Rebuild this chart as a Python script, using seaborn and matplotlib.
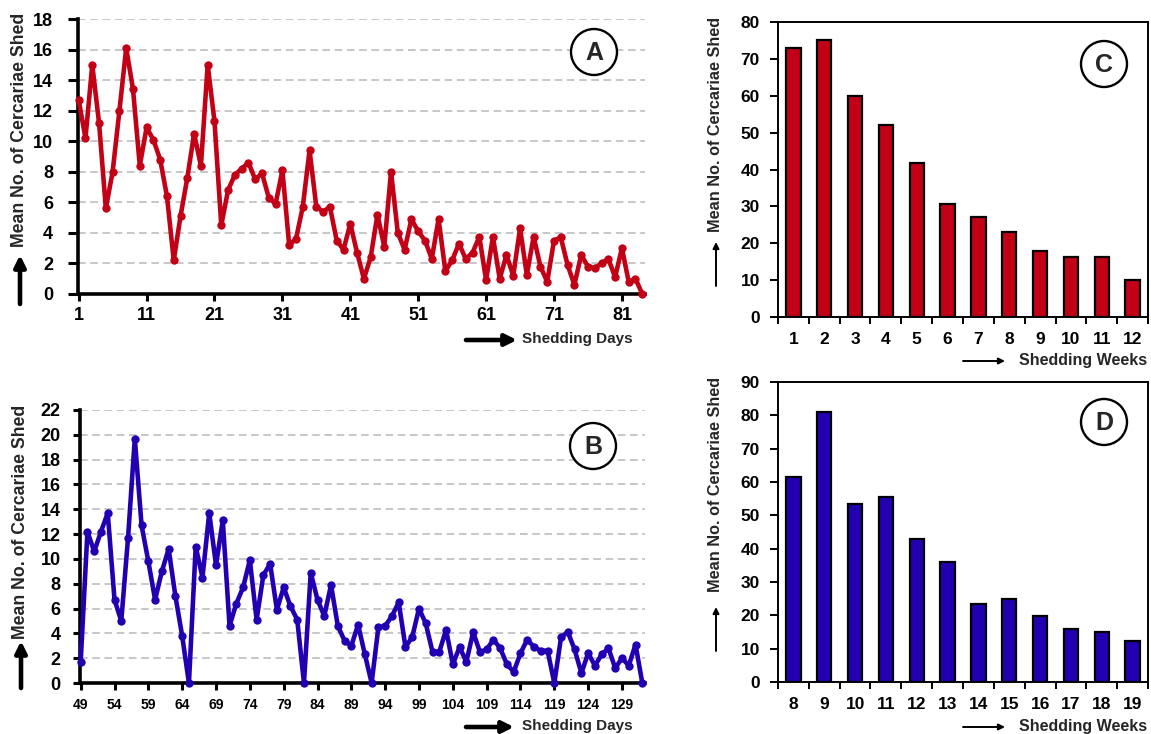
import numpy as np
import pandas as pd
import matplotlib
matplotlib.use("Agg")
import matplotlib.pyplot as plt
import seaborn as sns
from matplotlib.patches import Circle, FancyArrowPatch

# ---- data ----
days_a = list(range(1, 85))
mean_a = [12.7, 10.2, 15.0, 11.2, 5.6, 8.0, 12.0, 16.1, 13.4, 8.4,
          10.9, 10.1, 8.8, 6.4, 2.2, 5.1, 7.6, 10.5, 8.4, 15.0,
          11.3, 4.5, 6.8, 7.8, 8.2, 8.6, 7.5, 7.9, 6.3, 5.9,
          8.1, 3.2, 3.6, 5.7, 9.4, 5.7, 5.4, 5.7, 3.5, 2.9,
          4.6, 2.7, 1.0, 2.4, 5.2, 3.1, 8.0, 4.0, 2.9, 4.9,
          4.1, 3.5, 2.3, 4.9, 1.5, 2.2, 3.3, 2.3, 2.7, 3.75,
          0.9, 3.75, 1.0, 2.55, 1.2, 4.3, 1.25, 3.75, 1.8, 0.8,
          3.5, 3.7, 1.9, 0.6, 2.55, 1.8, 1.7, 2.0, 2.3, 1.1,
          3.0, 0.8, 1.0, 0.0]

days_b = list(range(49, 133))
mean_b = [1.7, 12.2, 10.6, 12.2, 13.7, 6.7, 5.0, 11.7, 19.7, 12.7,
          9.8, 6.7, 9.0, 10.8, 7.0, 3.8, 0.0, 11.0, 8.5, 13.7,
          9.5, 13.1, 4.6, 6.4, 7.7, 9.9, 5.1, 8.7, 9.6, 5.9,
          7.7, 6.2, 5.1, 0.0, 8.9, 6.7, 5.4, 7.9, 4.6, 3.4,
          3.0, 4.7, 2.3, 0.0, 4.5, 4.6, 5.4, 6.5, 2.9, 3.7,
          6.0, 4.8, 2.5, 2.5, 4.3, 1.5, 2.9, 1.7, 4.1, 2.5,
          2.7, 3.5, 2.8, 1.5, 0.9, 2.4, 3.5, 2.9, 2.6, 2.6,
          0.0, 3.7, 4.1, 2.7, 0.8, 2.4, 1.4, 2.3, 2.8, 1.2,
          2.0, 1.4, 3.1, 0.0]

weeks_c = ["1", "2", "3", "4", "5", "6", "7", "8", "9", "10", "11", "12"]
mean_c = [73, 75, 60, 52, 41.8, 30.7, 27.0, 23.1, 18.0, 16.2, 16.2, 10]

weeks_d = ["8", "9", "10", "11", "12", "13", "14", "15", "16", "17", "18", "19"]
mean_d = [61.6, 81.1, 53.4, 55.4, 42.9, 36.0, 23.4, 24.8, 19.9, 15.9, 15.0, 12.3]

RED = "#C20016"
BLUE = "#2200B2"
W, H = 1151, 734

sns.set_theme(style="ticks")
plt.rcParams["font.family"] = ["Liberation Sans", "DejaVu Sans"]
plt.rcParams["font.weight"] = "bold"

fig = plt.figure(figsize=(W / 100, H / 100), dpi=100)
fig.patch.set_facecolor("white")


def rect(l, t, r, b):
    return [l / W, 1 - b / H, (r - l) / W, (b - t) / H]


def P(x, y):
    # pixel position -> inches (for fig.dpi_scale_trans)
    return (x / 100, (H - y) / 100)


tr = fig.dpi_scale_trans


def arrow(x0, y0, x1, y1, lw, head):
    fig.add_artist(FancyArrowPatch(P(x0, y0), P(x1, y1), transform=tr,
                                   arrowstyle="-|>", mutation_scale=head,
                                   lw=lw, color="black", shrinkA=0, shrinkB=0))


def circled(x, y, letter):
    fig.add_artist(Circle(P(x, y), 0.23, transform=tr, facecolor="white",
                          edgecolor="black", lw=1.7, zorder=5))
    fig.text(*P(x, y + 1), letter, transform=tr, ha="center", va="center",
             fontsize=18, fontweight="bold", zorder=6)


def line_panel(ax, days, vals, color, xlim, ylim, xticks, xfs, ypad, xpad, ylen):
    df = pd.DataFrame({"day": days, "mean": vals})
    sns.lineplot(data=df, x="day", y="mean", color=color, lw=3.3, marker="o",
                 markersize=6, markeredgewidth=0, clip_on=False, ax=ax, zorder=3)
    ax.set_xlim(*xlim)
    ax.set_ylim(*ylim)
    ax.set_yticks(np.arange(0, ylim[1] + 1, 2))
    ax.set_xticks(xticks)
    ax.yaxis.grid(True, linestyle=(0, (5, 3)), color="#b8b8b8", lw=1.1)
    ax.set_axisbelow(True)
    for s in ["top", "right"]:
        ax.spines[s].set_visible(False)
    for s in ["left", "bottom"]:
        ax.spines[s].set_linewidth(2.6)
        ax.spines[s].set_color("black")
    ax.tick_params(axis="y", direction="out", length=ylen, width=2.2, pad=ypad,
                   labelsize=13, colors="black")
    ax.tick_params(axis="x", direction="out", length=5, width=2.2, pad=xpad,
                   labelsize=xfs, colors="black")
    for t in ax.get_xticklabels() + ax.get_yticklabels():
        t.set_fontweight("bold")
    ax.set_xlabel("")
    ax.set_ylabel("")


def bar_panel(ax, weeks, vals, color, ytop):
    df = pd.DataFrame({"week": weeks, "mean": vals})
    sns.barplot(data=df, x="week", y="mean", order=weeks, color=color,
                saturation=1, edgecolor="black", linewidth=1.6, width=0.47,
                errorbar=None, ax=ax)
    ax.set_xlim(-0.5, len(weeks) - 0.5)
    ax.set_ylim(0, ytop)
    ax.set_yticks(np.arange(0, ytop + 1, 10))
    ax.set_xticks(np.arange(-0.5, len(weeks), 1), minor=True)
    for s in ax.spines.values():
        s.set_visible(True)
        s.set_linewidth(1.4)
        s.set_color("black")
    ax.tick_params(axis="x", which="major", length=0, pad=11, labelsize=12.5,
                   colors="black")
    ax.tick_params(axis="x", which="minor", direction="out", length=5, width=1.4,
                   colors="black")
    ax.tick_params(axis="y", direction="out", length=6, width=1.4, pad=7,
                   labelsize=12.5, colors="black")
    for t in ax.get_xticklabels() + ax.get_yticklabels():
        t.set_fontweight("bold")
    ax.set_xlabel("")
    ax.set_ylabel("")


# ---- panel A ----
axA = fig.add_axes(rect(78, 19, 645, 294))
line_panel(axA, days_a, mean_a, RED, (0.9, 84.4), (0, 18),
           list(range(1, 82, 10)), 13, 11, 4, 7)

# ---- panel B ----
axB = fig.add_axes(rect(80, 410, 645, 683))
line_panel(axB, days_b, mean_b, BLUE, (48.9, 132.4), (0, 22),
           list(range(49, 130, 5)), 10, 9, 6, 5)

# ---- panel C ----
axC = fig.add_axes(rect(778, 22, 1148, 317))
bar_panel(axC, weeks_c, mean_c, RED, 80)

# ---- panel D ----
axD = fig.add_axes(rect(778, 382, 1148, 682))
bar_panel(axD, weeks_d, mean_d, BLUE, 90)

# ---- axis titles with arrows ----
ylab = "Mean No. of Cercariae Shed"
fig.text(*P(20, 130), ylab, transform=tr, rotation=90, ha="center", va="center",
         fontsize=12.7, fontweight="bold")
arrow(20, 304, 20, 255, 3.3, 17)
fig.text(*P(21, 522), ylab, transform=tr, rotation=90, ha="center", va="center",
         fontsize=12.7, fontweight="bold")
arrow(21, 688, 21, 641, 3.3, 17)
fig.text(*P(716, 124), ylab, transform=tr, rotation=90, ha="center", va="center",
         fontsize=11.7, fontweight="bold")
arrow(716, 286, 716, 242, 1.4, 9)
fig.text(*P(716, 484), ylab, transform=tr, rotation=90, ha="center", va="center",
         fontsize=11.7, fontweight="bold")
arrow(716, 651, 716, 607, 1.4, 9)

arrow(466, 340, 517, 340, 3.3, 17)
fig.text(*P(522, 339), "Shedding Days", transform=tr, ha="left", va="center",
         fontsize=11, fontweight="bold")
arrow(466, 727, 514, 727, 3.3, 17)
fig.text(*P(522, 726), "Shedding Days", transform=tr, ha="left", va="center",
         fontsize=11, fontweight="bold")
arrow(963, 361, 1005, 361, 1.4, 9)
fig.text(*P(1019, 360), "Shedding Weeks", transform=tr, ha="left", va="center",
         fontsize=11.5, fontweight="bold")
arrow(963, 727, 1005, 727, 1.4, 9)
fig.text(*P(1019, 726), "Shedding Weeks", transform=tr, ha="left", va="center",
         fontsize=11.5, fontweight="bold")

# ---- circled panel letters ----
circled(594, 52, "A")
circled(593, 446, "B")
circled(1104, 64, "C")
circled(1104, 422, "D")

fig.savefig("out.png", dpi=100, facecolor="white")
